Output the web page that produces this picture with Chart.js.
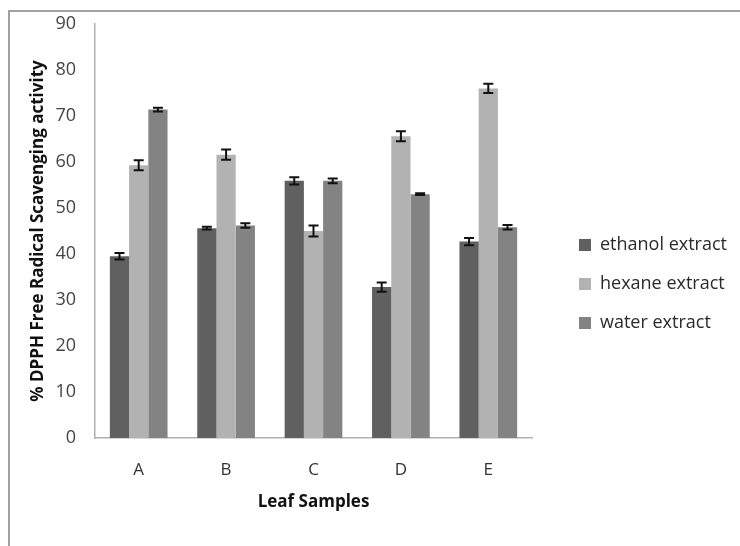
<!DOCTYPE html>
<html>
<head>
<meta charset="utf-8">
<script src="https://cdn.jsdelivr.net/npm/chart.js@4"></script>
<style>
    body { margin: 0; background: #fff; }
    #frame {
        position: absolute; left: 8px; top: 10px;
        width: 760px; height: 560px;
        border: 2px solid #a0a0a0;
    }
    #wrap { position: absolute; left: 0; top: 0; width: 740px; height: 546px; }
</style>
</head>
<body>
<div id="frame"></div>
<div id="wrap"><canvas id="myChart"></canvas></div>
<script>
// leaf samples and % DPPH scavenging per extract
const samples = ['A', 'B', 'C', 'D', 'E'];
const ethanol = [39.5, 45.6, 55.9, 32.8, 42.7];
const hexane  = [59.3, 61.6, 45.0, 65.6, 76.0];
const water   = [71.4, 46.2, 55.9, 53.0, 45.8];
// standard error
const ethanolErr = [0.7, 0.3, 0.8, 1.0, 0.8];
const hexaneErr  = [1.1, 1.1, 1.2, 1.1, 1.0];
const waterErr   = [0.4, 0.5, 0.5, 0.2, 0.5];

const FONT = "'Open Sans', sans-serif";

// draws the whiskers on top of the bars
const errorBars = {
    id: 'errorBars',
    afterDatasetsDraw(chart) {
        const ctx = chart.ctx;
        const y = chart.scales.y;
        chart.data.datasets.forEach(function(ds, i) {
            const meta = chart.getDatasetMeta(i);
            meta.data.forEach(function(bar, j) {
                const v = ds.data[j], e = ds.errors[j];
                const top = y.getPixelForValue(v + e);
                const bot = y.getPixelForValue(v - e);
                ctx.save();
                ctx.strokeStyle = '#111';
                ctx.lineWidth = 2;
                ctx.beginPath();
                ctx.moveTo(bar.x, top); ctx.lineTo(bar.x, bot);
                ctx.moveTo(bar.x - 5, top); ctx.lineTo(bar.x + 5, top);
                ctx.moveTo(bar.x - 5, bot); ctx.lineTo(bar.x + 5, bot);
                ctx.stroke();
                ctx.restore();
            });
        });
    }
};

// legend sits a bit away from the plot, like the excel original
const legendPlace = {
    id: 'legendPlace',
    beforeInit(chart) {
        const fit = chart.legend.fit;
        chart.legend.fit = function() {
            fit.bind(chart.legend)();
            this.width = 208;
        };
    },
    afterLayout(chart) {
        const lg = chart.legend;
        const w = lg.width;
        lg.left = 558;
        lg.right = lg.left + w;
        lg.top += 2;
        lg.bottom += 2;
    }
};

const ctx = document.getElementById('myChart').getContext('2d');
const myChart = new Chart(ctx, {
    type: 'bar',
    data: {
        labels: samples,
        datasets: [
            { label: 'ethanol extract', data: ethanol, errors: ethanolErr, backgroundColor: '#606060' },
            { label: 'hexane extract', data: hexane, errors: hexaneErr, backgroundColor: '#b2b2b2' },
            { label: 'water extract', data: water, errors: waterErr, backgroundColor: '#838383' }
        ]
    },
    options: {
        responsive: true,
        maintainAspectRatio: false,
        animation: false,
        categoryPercentage: 0.66,
        barPercentage: 1.0,
        layout: { padding: { left: 18, top: 24, right: 0, bottom: 6 } },
        plugins: {
            tooltip: { enabled: false },
            legend: {
                position: 'right',
                align: 'center',
                labels: {
                    font: { family: FONT, size: 18 },
                    color: '#2a2a2a',
                    boxWidth: 12,
                    boxHeight: 12,
                    padding: 21
                }
            }
        },
        scales: {
            x: {
                afterFit: function(scale) { scale.height = 102; },
                grid: { display: false, drawTicks: false },
                border: { color: '#b0b0b0', width: 1.5 },
                ticks: { font: { family: FONT, size: 17 }, color: '#333', padding: 22 },
                title: {
                    display: true, text: 'Leaf Samples', color: '#111',
                    font: { family: FONT, size: 17, weight: 'bold' }, padding: { top: 11, bottom: 28 }
                }
            },
            y: {
                afterFit: function(scale) { scale.width = 77; },
                min: 0, max: 90,
                ticks: { stepSize: 10, font: { family: FONT, size: 18 }, color: '#444', padding: 13 },
                grid: { display: false, drawTicks: true, tickLength: 6, tickColor: '#b0b0b0' },
                border: { color: '#b0b0b0', width: 1.5 },
                title: {
                    display: true, text: '% DPPH Free Radical Scavenging activity', color: '#111',
                    font: { family: FONT, size: 17, weight: 'bold' }, padding: { top: 10, bottom: 0 }
                }
            }
        }
    },
    plugins: [errorBars, legendPlace]
});
</script>
</body>
</html>
